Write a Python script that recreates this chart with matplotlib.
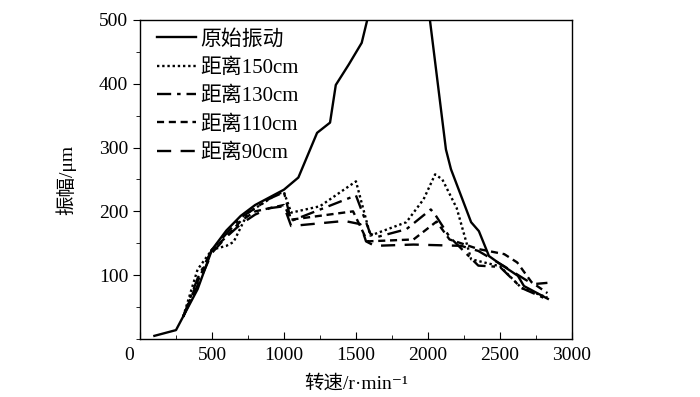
import matplotlib
matplotlib.use("Agg")
import matplotlib.pyplot as plt
from matplotlib.ticker import MultipleLocator
from matplotlib.transforms import ScaledTranslation

plt.rcParams["font.family"] = ["Liberation Serif", "Noto Sans CJK SC", "DejaVu Serif"]
plt.rcParams["font.size"] = 14

# 原始振动 (goes off the top of the axes between ~1580 and ~2015 rpm)
orig_rpm = [100, 250, 400, 500, 600, 700, 800, 900, 1000, 1100, 1230, 1320, 1360,
            1450, 1540, 1600, 1800, 2000, 2125, 2160, 2300, 2354, 2424, 2486,
            2625, 2667, 2833]
orig_amp = [5, 14, 78, 140, 170, 193, 210, 222, 234, 253, 323, 339, 398,
            430, 464, 520, 900, 525, 297, 266, 183, 169, 130, 120,
            99, 83, 63]

d150_rpm = [300, 400, 500, 600, 650, 750, 850, 950, 1000, 1050, 1250, 1500, 1600,
            1850, 1970, 2050, 2100, 2200, 2300, 2500, 2650, 2830]
d150_amp = [35, 109, 140, 146, 152, 198, 212, 227, 230, 198, 208, 247, 162,
            183, 219, 258, 250, 205, 125, 114, 80, 65]

d130_rpm = [300, 400, 500, 600, 700, 800, 900, 1000, 1050, 1500, 1600, 1650, 1850,
            2020, 2050, 2150, 2350, 2500, 2650, 2830]
d130_amp = [35, 95, 140, 165, 190, 205, 220, 230, 185, 225, 165, 160, 172,
            203, 195, 160, 115, 113, 80, 62]

d110_rpm = [300, 400, 500, 600, 700, 800, 900, 1000, 1050, 1480, 1580, 1900, 2060,
            2150, 2350, 2530, 2620, 2720, 2830]
d110_amp = [35, 90, 140, 160, 185, 200, 205, 210, 187, 200, 153, 156, 184,
            156, 141, 133, 120, 89, 72]

d90_rpm = [300, 420, 500, 600, 700, 800, 900, 1000, 1050, 1420, 1530, 1570, 1630,
           1900, 2230, 2350, 2530, 2670, 2730, 2830]
d90_amp = [35, 94, 135, 160, 180, 195, 205, 208, 177, 185, 180, 153, 146,
           148, 146, 138, 114, 94, 86, 88]

x_ticks = [0, 500, 1000, 1500, 2000, 2500, 3000]
y_ticks = [100, 200, 300, 400, 500]

fig = plt.figure(figsize=(7.0, 3.97), dpi=100)
ax = fig.add_axes([0.2, 0.146, 0.617, 0.804])

ax.plot(orig_rpm, orig_amp, color="black", lw=1.7, label="原始振动")
ax.plot(d150_rpm, d150_amp, color="black", lw=1.7, linestyle=(0, (1, 1.2)), label="距离150cm")
ax.plot(d130_rpm, d130_amp, color="black", lw=1.7, linestyle=(0, (6, 2.5, 1.5, 2.5)), label="距离130cm")
ax.plot(d110_rpm, d110_amp, color="black", lw=1.7, linestyle=(0, (3, 2)), label="距离110cm")
ax.plot(d90_rpm, d90_amp, color="black", lw=1.7, linestyle=(0, (6, 4)), label="距离90cm")

ax.set_xlim(0, 3000)
ax.set_ylim(0, 500)
ax.set_xticks(x_ticks)
ax.set_xticklabels([""] + [str(v) for v in x_ticks[1:]])
ax.xaxis.set_minor_locator(MultipleLocator(250))
ax.set_yticks(y_ticks)
ax.yaxis.set_minor_locator(MultipleLocator(50))
ax.tick_params(axis="x", which="both", direction="in", top=False, labelsize=14, pad=6)
ax.tick_params(axis="x", which="major", length=5)
ax.tick_params(axis="x", which="minor", length=3)
ax.tick_params(axis="y", which="both", direction="out", right=False, labelsize=14)
ax.tick_params(axis="y", which="major", length=5)
ax.tick_params(axis="y", which="minor", length=3)

# the "0" label sits a little left of the axis corner
zero_tf = ax.get_xaxis_transform() + ScaledTranslation(-11 / 100, -6 / 72, fig.dpi_scale_trans)
ax.text(x_ticks[0], 0, str(x_ticks[0]), transform=zero_tf, ha="center", va="top", fontsize=14)

for sp in ax.spines.values():
    sp.set_linewidth(1.0)

ax.set_xlabel("转速/r·min⁻¹", fontsize=14, labelpad=8)
ax.set_ylabel("振幅/μm", fontsize=14, labelpad=16)

ax.legend(loc="upper left", frameon=False, fontsize=15, handlelength=1.85,
          handletextpad=0.25, labelspacing=0.42, borderaxespad=0.0,
          bbox_to_anchor=(0.02, 0.995))

fig.savefig("out.png", dpi=100)
